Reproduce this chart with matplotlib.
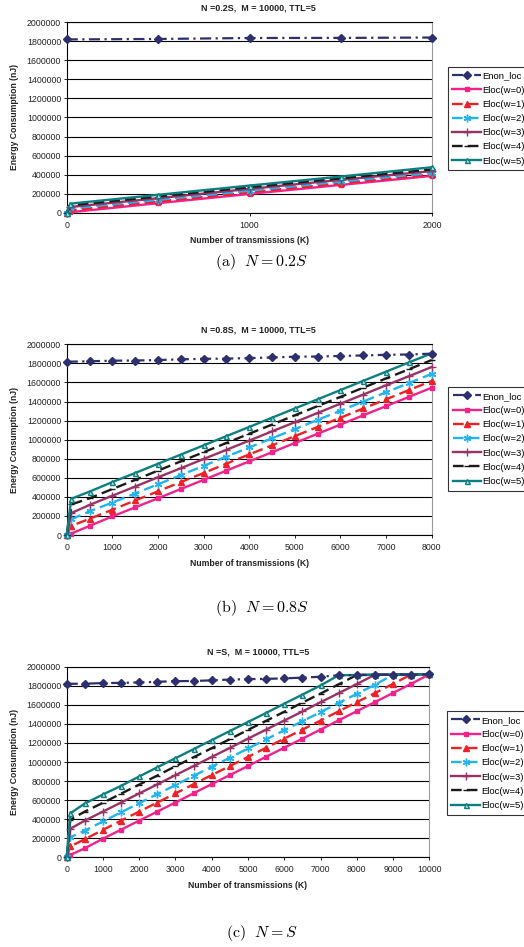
import matplotlib
matplotlib.use("Agg")
import matplotlib.pyplot as plt
from matplotlib.ticker import FixedLocator

plt.rcParams['font.family'] = ['Liberation Sans', 'DejaVu Sans']
plt.rcParams['mathtext.fontset'] = 'cm'

# ---------------- data ----------------
labels = ["Enon_loc", "Eloc(w=0)", "Eloc(w=1)", "Eloc(w=2)", "Eloc(w=3)", "Eloc(w=4)", "Eloc(w=5)"]

# panel (a) N = 0.2S
a_x_enon = [0, 500, 1000, 1500, 2000]
a_enon = [1820000, 1825000, 1835000, 1836000, 1840000]
a_x = [0, 20, 500, 1000, 1500, 2000]
a_w0 = [0, 5000, 100000, 197000, 292000, 387000]
a_w1 = [0, 25000, 118000, 215000, 310000, 402000]
a_w2 = [0, 45000, 135000, 232000, 328000, 418000]
a_w3 = [0, 60000, 152000, 250000, 345000, 438000]
a_w4 = [0, 78000, 170000, 268000, 362000, 455000]
a_w5 = [0, 95000, 188000, 285000, 380000, 478000]

# panel (b) N = 0.8S
b_x_enon = [0, 500, 1000, 1500, 2000, 2500, 3000, 3500, 4000, 4500, 5000, 5500, 6000, 6500, 7000, 7500, 8000]
b_enon = [1817000, 1822000, 1828000, 1830000, 1835000, 1842000, 1848000, 1850000, 1855000,
          1862000, 1870000, 1872000, 1878000, 1883000, 1890000, 1893000, 1902000]
b_x = [0, 100, 500, 1000, 1500, 2000, 2500, 3000, 3500, 4000, 4500, 5000, 5500, 6000, 6500, 7000, 7500, 8000]
b_w0 = [0, 15000, 95000, 195000, 290000, 385000, 482000, 578000, 675000, 772000, 868000, 965000,
        1062000, 1158000, 1255000, 1352000, 1448000, 1545000]
b_w1 = [0, 95000, 170000, 265000, 362000, 458000, 555000, 650000, 748000, 845000, 940000, 1037000,
        1133000, 1230000, 1327000, 1423000, 1520000, 1615000]
b_w2 = [0, 165000, 248000, 340000, 435000, 532000, 628000, 725000, 822000, 918000, 1015000, 1110000,
        1207000, 1303000, 1400000, 1497000, 1593000, 1690000]
b_w3 = [0, 230000, 315000, 412000, 508000, 605000, 700000, 797000, 893000, 990000, 1087000, 1183000,
        1280000, 1377000, 1473000, 1570000, 1665000, 1762000]
b_w4 = [0, 320000, 385000, 482000, 578000, 675000, 772000, 868000, 965000, 1062000, 1158000, 1255000,
        1352000, 1448000, 1545000, 1642000, 1738000, 1835000]
b_w5 = [0, 380000, 455000, 555000, 650000, 747000, 843000, 940000, 1037000, 1133000, 1230000, 1327000,
        1423000, 1520000, 1617000, 1713000, 1810000, 1905000]

# panel (c) N = S
c_x_enon = [0, 500, 1000, 1500, 2000, 2500, 3000, 3500, 4000, 4500, 5000, 5500, 6000, 6500, 7000,
            7500, 8000, 8500, 9000, 9500, 10000]
c_enon = [1820000, 1822000, 1828000, 1830000, 1835000, 1842000, 1848000, 1850000, 1857000, 1865000,
          1870000, 1872000, 1878000, 1885000, 1895000, 1910000, 1913000, 1915000, 1916000, 1918000, 1920000]
c_x = [0, 100, 500, 1000, 1500, 2000, 2500, 3000, 3500, 4000, 4500, 5000, 5500, 6000, 6500, 7000,
       7500, 8000, 8500, 9000, 9500, 10000]
c_w0 = [0, 25000, 95000, 195000, 290000, 385000, 480000, 575000, 672000, 768000, 863000, 958000,
        1055000, 1150000, 1245000, 1340000, 1437000, 1533000, 1628000, 1725000, 1820000, 1920000]
c_w1 = [0, 115000, 190000, 288000, 385000, 480000, 575000, 670000, 767000, 863000, 958000, 1053000,
        1150000, 1245000, 1340000, 1435000, 1532000, 1628000, 1723000, 1820000, 1918000, 1920000]
c_w2 = [0, 210000, 280000, 376000, 472000, 568000, 663000, 758000, 855000, 950000, 1045000, 1142000,
        1237000, 1333000, 1428000, 1523000, 1620000, 1715000, 1810000, 1916000, 1918000, 1920000]
c_w3 = [0, 300000, 385000, 480000, 575000, 670000, 765000, 862000, 957000, 1053000, 1148000, 1245000,
        1340000, 1435000, 1530000, 1627000, 1722000, 1818000, 1915000, 1916000, 1918000, 1920000]
c_w4 = [0, 395000, 480000, 572000, 668000, 763000, 858000, 955000, 1050000, 1145000, 1240000, 1337000,
        1432000, 1527000, 1623000, 1718000, 1815000, 1913000, 1915000, 1916000, 1918000, 1920000]
c_w5 = [0, 462000, 565000, 659000, 750000, 848000, 945000, 1040000, 1135000, 1230000, 1325000, 1420000,
        1515000, 1612000, 1707000, 1803000, 1910000, 1913000, 1915000, 1916000, 1918000, 1920000]

titles = ["N =0.2S,  M = 10000, TTL=5", "N =0.8S,  M = 10000, TTL=5", "N =S,  M = 10000, TTL=5"]
captions = [r"$\mathrm{(a)}\ \ N = 0.2S$", r"$\mathrm{(b)}\ \ N = 0.8S$", r"$\mathrm{(c)}\ \ N = S$"]
y_ticks = [0, 200000, 400000, 600000, 800000, 1000000, 1200000, 1400000, 1600000, 1800000, 2000000]
a_xticks = [0, 1000, 2000]
b_xticks = [0, 1000, 2000, 3000, 4000, 5000, 6000, 7000, 8000]
c_xticks = [0, 1000, 2000, 3000, 4000, 5000, 6000, 7000, 8000, 9000, 10000]

# ---------------- styles ----------------
styles = [
    dict(color='#2E2F6E', ls=(0, (5.0, 2.0, 1.0, 2.0)), marker='D', ms=3.8, mfc='#2E2F6E', mec='#2E2F6E'),
    dict(color='#F2228C', ls='-', marker='s', ms=3.4, mfc='#F2228C', mec='#F2228C'),
    dict(color='#EE2028', ls=(0, (4.5, 2.2)), marker='^', ms=4.2, mfc='#EE2028', mec='#EE2028'),
    dict(color='#22B4EE', ls=(0, (4.5, 2.2)), marker=(6, 2, 0), ms=5.5, mfc='#22B4EE', mec='#22B4EE'),
    dict(color='#993366', ls='-', marker='+', ms=5.5, mfc='#993366', mec='#993366'),
    dict(color='#1A1A1A', ls=(0, (4.5, 2.2)), marker='_', ms=4.5, mfc='#1A1A1A', mec='#1A1A1A'),
    dict(color='#0E7F80', ls='-', marker='^', ms=3.6, mfc='#BFE0E0', mec='#0E7F80'),
]

W, H = 524.0, 947.0


def rect(l, r, t, b):
    return [l / W, 1 - b / H, (r - l) / W, (b - t) / H]


fig = plt.figure(figsize=(W / 100, H / 100), dpi=100)

panels = [
    dict(rect=rect(66.7, 432.3, 22.3, 212.7), xmax=2000, xticks=a_xticks,
         enon=(a_x_enon, a_enon), x=a_x, ws=[a_w0, a_w1, a_w2, a_w3, a_w4, a_w5],
         title_y=7.5, xlabel_y=240, leg=(447.7, 66.7), cap_y=262),
    dict(rect=rect(66.7, 431.7, 344.3, 535.0), xmax=8000, xticks=b_xticks,
         enon=(b_x_enon, b_enon), x=b_x, ws=[b_w0, b_w1, b_w2, b_w3, b_w4, b_w5],
         title_y=330, xlabel_y=563, leg=(448, 387), cap_y=608),
    dict(rect=rect(66.7, 429.3, 666.7, 857.3), xmax=10000, xticks=c_xticks,
         enon=(c_x_enon, c_enon), x=c_x, ws=[c_w0, c_w1, c_w2, c_w3, c_w4, c_w5],
         title_y=652, xlabel_y=885, leg=(446.7, 711), cap_y=933),
]

for i, p in enumerate(panels):
    ax = fig.add_axes(p['rect'])
    ax.set_xlim(0, p['xmax'])
    ax.set_ylim(0, 2000000)
    ax.yaxis.set_major_locator(FixedLocator(y_ticks))
    ax.xaxis.set_major_locator(FixedLocator(p['xticks']))
    ax.set_yticklabels([str(v) for v in y_ticks])
    ax.set_xticklabels([str(v) for v in p['xticks']])
    ax.tick_params(axis='both', labelsize=6.3, length=2.2, width=0.7, direction='out', pad=1.8,
                   colors='#222222')
    ax.tick_params(axis='x', pad=3.5)
    ax.grid(axis='y', color='black', lw=0.8)
    ax.set_axisbelow(True)
    for s in ['left', 'bottom', 'top']:
        ax.spines[s].set_color('black')
        ax.spines[s].set_linewidth(0.8)
    ax.spines['right'].set_color('#9a9a9a')
    ax.spines['right'].set_linewidth(0.8)

    handles = []
    ex, ey = p['enon']
    st = styles[0]
    h, = ax.plot(ex, ey, color=st['color'], ls=st['ls'], lw=1.6, marker=st['marker'], ms=st['ms'],
                 mfc=st['mfc'], mec=st['mec'], label=labels[0], clip_on=False, zorder=4)
    handles.append(h)
    for k, wv in enumerate(p['ws']):
        st = styles[k + 1]
        h, = ax.plot(p['x'], wv, color=st['color'], ls=st['ls'], lw=1.7, marker=st['marker'],
                     ms=st['ms'], mfc=st['mfc'], mec=st['mec'], mew=1.0, label=labels[k + 1],
                     clip_on=False, zorder=3 + k * 0.01)
        handles.append(h)

    fig.text(258 / W, 1 - p['title_y'] / H, titles[i], ha='center', va='center',
             fontsize=6.5, fontweight='bold', color='#222222')
    cx = (p['rect'][0] + p['rect'][2] / 2)
    fig.text(cx, 1 - p['xlabel_y'] / H, "Number of transmissions (K)", ha='center', va='center',
             fontsize=6.2, fontweight='bold', color='#222222')
    cy = p['rect'][1] + p['rect'][3] / 2
    fig.text(15 / W, cy, "Energy Consumption (nJ)", ha='center', va='center', rotation=90,
             fontsize=6.2, fontweight='bold', color='#222222')

    lx, ly = p['leg']
    leg = fig.legend(handles=handles, labels=labels, loc='upper left',
                     bbox_to_anchor=(lx / W, 1 - ly / H), fontsize=6.8, frameon=True,
                     fancybox=False, edgecolor='black', handlelength=3.0, handletextpad=0.15,
                     labelspacing=0.55, borderpad=0.5, borderaxespad=0.0, numpoints=1)
    leg.get_frame().set_linewidth(0.8)

    fig.text(262 / W, 1 - p['cap_y'] / H, captions[i], ha='center', va='center', fontsize=11.5)

fig.savefig("out.png", dpi=100)
